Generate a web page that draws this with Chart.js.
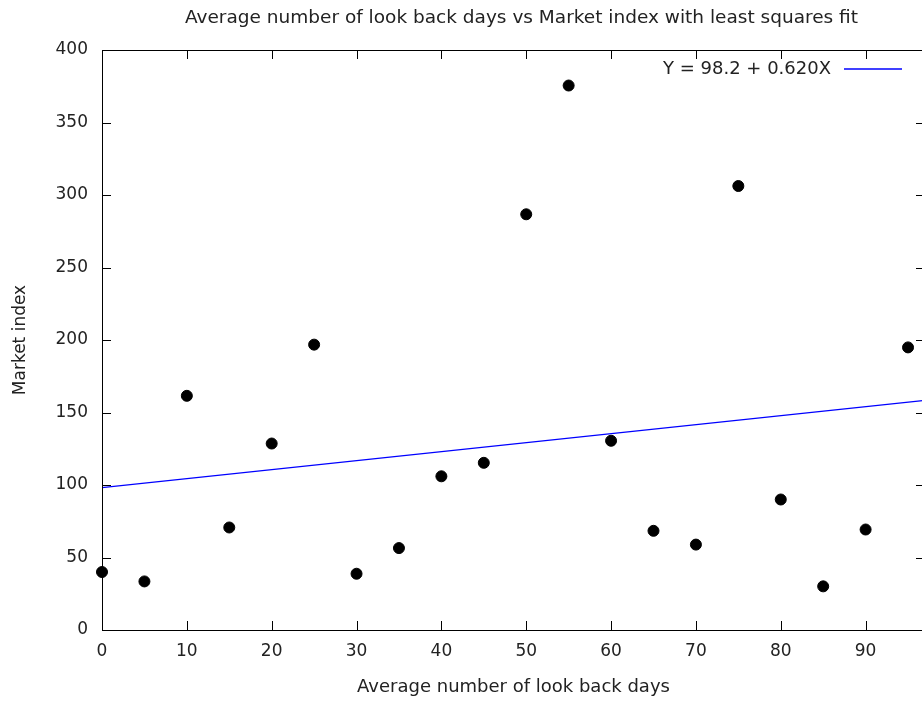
<!DOCTYPE html>
<html>
<head>
<meta charset="utf-8">
<script src="https://cdn.jsdelivr.net/npm/chart.js@4.4.1/dist/chart.umd.min.js"></script>
<style>
  html, body { margin: 0; padding: 0; background: #fff; overflow: hidden; }
  #wrap { width: 1043px; height: 704px; }
</style>
</head>
<body>
<div id="wrap"><canvas id="chart" width="1043" height="704"></canvas></div>
<script>
// look back days (x) and market index (y)
const lookBackDays = [0, 5, 10, 15, 20, 25, 30, 35, 40, 45, 50, 55, 60, 65, 70, 75, 80, 85, 90, 95];
const marketIndex = [40, 33.5, 161.5, 70.7, 128.6, 196.8, 38.8, 56.5, 106, 115.3,
                     286.7, 375.5, 130.5, 68.4, 58.9, 306.2, 90, 30.1, 69.3, 194.9];

// least squares fit as printed in the key
const fitIntercept = 98.2;
const fitSlope = 0.620;
const fitLabel = 'Y = 98.2 + 0.620X';

const xMin = 0, xMax = 97;
const yMin = 0, yMax = 400;

const FONT = 'DejaVu Sans';
const TEXT = '#222';

const points = lookBackDays.map((d, i) => ({ x: d, y: marketIndex[i] }));
const fitLine = [xMin, xMax].map(x => ({ x: x, y: fitIntercept + fitSlope * x }));

// gnuplot style box with inward ticks on all four sides, plus the key
const gnuplotFrame = {
    id: 'gnuplotFrame',
    afterDraw(chart) {
        const { ctx, chartArea: a, scales } = chart;
        const tick = 9;
        ctx.save();
        ctx.strokeStyle = '#000';
        ctx.lineWidth = 1;
        ctx.strokeRect(a.left + 0.5, a.top + 0.5, a.right - a.left, a.bottom - a.top);

        ctx.beginPath();
        scales.x.ticks.forEach(t => {
            const px = Math.round(scales.x.getPixelForValue(t.value)) + 0.5;
            ctx.moveTo(px, a.bottom); ctx.lineTo(px, a.bottom - tick);
            ctx.moveTo(px, a.top); ctx.lineTo(px, a.top + tick);
        });
        scales.y.ticks.forEach(t => {
            const py = Math.round(scales.y.getPixelForValue(t.value)) + 0.5;
            ctx.moveTo(a.left, py); ctx.lineTo(a.left + tick, py);
            ctx.moveTo(a.right, py); ctx.lineTo(a.right - tick, py);
        });
        ctx.stroke();

        // key: text then line sample, top right
        const fit = chart.data.datasets[1];
        const ky = a.top + 19;
        ctx.font = `18px "${FONT}"`;
        ctx.fillStyle = TEXT;
        ctx.textAlign = 'right';
        ctx.textBaseline = 'middle';
        ctx.fillText(fit.label, a.right - 94, ky);
        ctx.strokeStyle = fit.borderColor;
        ctx.lineWidth = 1.3;
        ctx.beginPath();
        ctx.moveTo(a.right - 81, ky);
        ctx.lineTo(a.right - 23, ky);
        ctx.stroke();
        ctx.restore();
    }
};

new Chart(document.getElementById('chart'), {
    type: 'scatter',
    data: {
        datasets: [
            {
                label: 'data',
                data: points,
                backgroundColor: '#000',
                borderColor: '#000',
                pointRadius: 5.5,
                pointHoverRadius: 5.5,
                clip: false,
                order: 1
            },
            {
                type: 'line',
                label: fitLabel,
                data: fitLine,
                borderColor: '#0000ff',
                borderWidth: 1.3,
                pointRadius: 0,
                fill: false,
                order: 0
            }
        ]
    },
    options: {
        responsive: false,
        animation: false,
        events: [],
        layout: { padding: 0 },
        plugins: {
            legend: { display: false },
            tooltip: { enabled: false },
            title: {
                display: true,
                text: 'Average number of look back days vs Market index with least squares fit',
                color: TEXT,
                font: { family: FONT, size: 18.5, weight: 'normal' },
                padding: { top: 7, bottom: 20.8 }
            }
        },
        scales: {
            x: {
                type: 'linear',
                min: xMin,
                max: xMax,
                grid: { display: false, drawTicks: false },
                border: { display: false },
                ticks: {
                    stepSize: 10,
                    padding: 11,
                    color: TEXT,
                    font: { family: FONT, size: 17 }
                },
                afterBuildTicks: scale => {
                    scale.ticks = scale.ticks.filter(t => t.value % 10 === 0);
                },
                afterFit: scale => { scale.height = 74; },
                title: {
                    display: true,
                    text: 'Average number of look back days',
                    color: TEXT,
                    font: { family: FONT, size: 18 },
                    padding: { top: 0, bottom: 6 }
                }
            },
            y: {
                type: 'linear',
                min: yMin,
                max: yMax,
                grid: { display: false, drawTicks: false },
                border: { display: false },
                ticks: {
                    stepSize: 50,
                    padding: 14,
                    color: TEXT,
                    font: { family: FONT, size: 17 }
                },
                afterFit: scale => { scale.width = 102; },
                title: {
                    display: true,
                    text: 'Market index',
                    color: TEXT,
                    font: { family: FONT, size: 17 },
                    padding: { top: 10, bottom: 0 }
                }
            },
            // empty right-hand box: leaves room past the cropped right border
            yRight: {
                type: 'linear',
                position: 'right',
                min: yMin,
                max: yMax,
                grid: { display: false, drawTicks: false },
                border: { display: false },
                ticks: { display: false },
                afterFit: scale => { scale.width = 118; }
            }
        }
    },
    plugins: [gnuplotFrame]
});
</script>
</body>
</html>
